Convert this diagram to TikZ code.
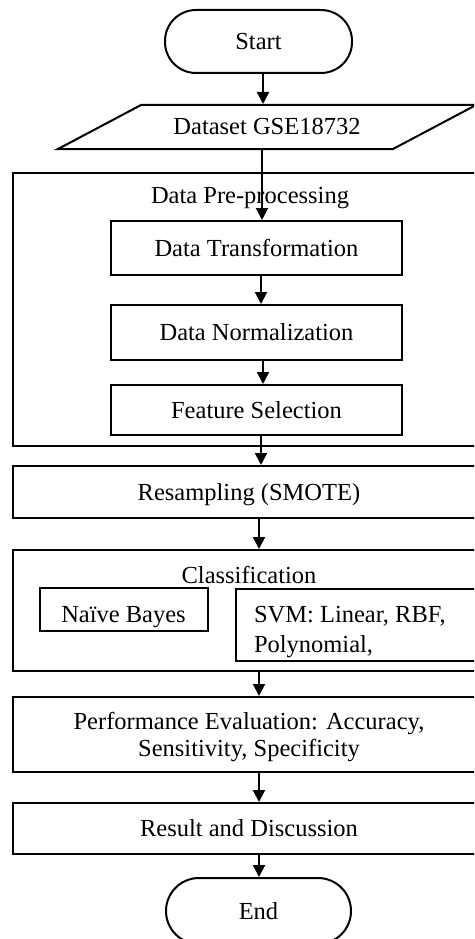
\documentclass[tikz,border=0pt]{standalone}
\usepackage{fontspec}
\setmainfont{Liberation Serif}
\usetikzlibrary{arrows.meta}
\begin{document}
\begin{tikzpicture}[x=1pt,y=-1pt,line width=2pt,
  font=\fontsize{24.5}{30}\selectfont,
  box/.style={draw,rectangle,inner sep=0pt},
  sbox/.style={box,text height=16pt,text depth=0pt},
  txt/.style={inner sep=0pt,text height=16pt,text depth=0pt},
  term/.style={sbox,rounded corners=31pt},
  arr/.style={-{Triangle[length=12pt,width=12pt]}}]
\useasboundingbox (0,0) rectangle (474,939);
\clip (0,0) rectangle (474,939);
% coordinates for vertical connectors
\coordinate (c263) at (263,0);
\coordinate (c262) at (262,0);
\coordinate (c261) at (261,0);
\coordinate (c259) at (259,0);
% terminals and data
\node[term,minimum width=187pt,minimum height=63pt] (start) at (258.5,41.5) {Start};
\node[txt,minimum width=335pt,minimum height=44pt] (ds) at (267,127) {Dataset GSE18732};
\draw (58,149) -- (141,105) -- (476,105) -- (393,149) -- cycle;
% pre-processing group
\node[box,minimum width=472pt,minimum height=273pt] (pre) at (249,309.5) {};
\node[txt] (pretitle) at (250,195) {Data Pre-processing};
\node[sbox,minimum width=291pt,minimum height=54pt] (dt) at (256.5,248) {Data Transformation};
\node[sbox,minimum width=291pt,minimum height=55pt] (dn) at (256.5,332.5) {Data Normalization};
\node[sbox,minimum width=291pt,minimum height=50pt] (fs) at (256.5,410) {Feature Selection};
% resampling
\node[sbox,minimum width=472pt,minimum height=52pt] (res) at (249,492) {Resampling (SMOTE)};
% classification group
\node[box,minimum width=472pt,minimum height=121pt] (cls) at (249,610.5) {};
\node[txt] (clstitle) at (249,575) {Classification};
\node[box,text height=26pt,text depth=0pt,minimum width=168pt,minimum height=43pt] (nb) at (123.5,609.5) {Naïve Bayes};
\node[box,anchor=north west,minimum width=250pt,minimum height=72pt] (svm) at (235,588) {};
\node[anchor=north west,inner sep=0pt,align=left] (svmtxt) at (253,605) {SVM: Linear, RBF,\\Polynomial,};
% evaluation
\node[box,minimum width=472pt,minimum height=75pt,align=center,font=\fontsize{24.5}{27}\selectfont] (perf) at (249,734.5)
  {\rule{0pt}{23pt}Performance Evaluation: Accuracy,\\Sensitivity, Specificity};
\node[sbox,minimum width=472pt,minimum height=51pt] (rd) at (249,828.5) {Result and Discussion};
\node[term,rounded corners=33pt,minimum width=185pt,minimum height=66pt] (end) at (258.5,911) {End};
% connectors
\draw[arr] (start.south -| c263) -- (ds.north -| c263);
\draw[arr] (ds.south -| c262) -- (dt.north -| c262);
\draw[arr] (dt.south -| c261) -- (dn.north -| c261);
\draw[arr] (dn.south -| c263) -- (fs.north -| c263);
\draw[arr] (fs.south -| c261) -- (res.north -| c261);
\draw[arr] (res.south -| c259) -- (cls.north -| c259);
\draw[arr] (cls.south -| c259) -- (perf.north -| c259);
\draw[arr] (perf.south -| c259) -- (rd.north -| c259);
\draw[arr] (rd.south -| c259) -- (end.north -| c259);
\end{tikzpicture}
\end{document}
